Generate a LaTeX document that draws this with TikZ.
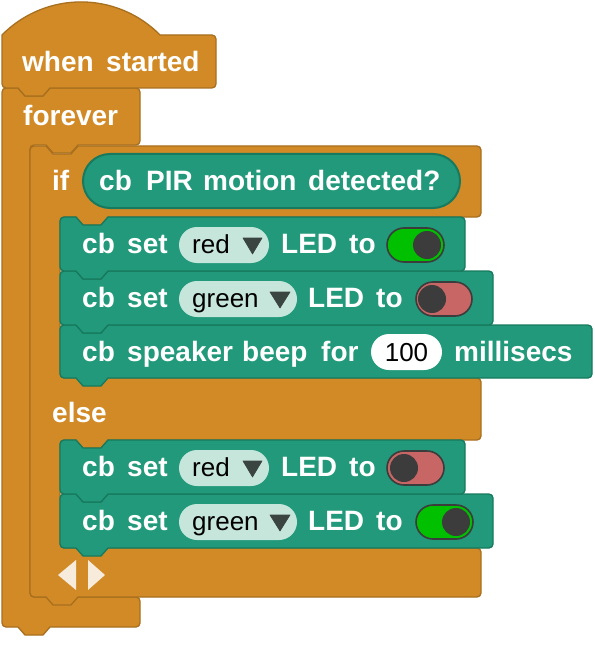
\documentclass[tikz,border=0pt]{standalone}
\usepackage{fontspec}
\setmainfont{Liberation Sans}

\definecolor{ctrl}{HTML}{D18A26}
\definecolor{ctrlline}{HTML}{A86F1E}
\definecolor{cbteal}{HTML}{21997A}
\definecolor{cbline}{HTML}{17795E}
\definecolor{ddfill}{HTML}{C6E6DC}
\definecolor{ddarrow}{HTML}{3A4441}
\definecolor{ongreen}{HTML}{00C000}
\definecolor{offred}{HTML}{C86666}
\definecolor{knob}{HTML}{3C3C3C}
\definecolor{cream}{HTML}{F7EBDC}

\tikzset{
  ctrlblk/.style={fill=ctrl, draw=ctrlline, line width=1.3pt, line join=round},
  stmtblk/.style={fill=cbteal, draw=cbline, line width=1.3pt, line join=round},
  lbl/.style={text=white, font=\fontsize{28}{32}\selectfont\bfseries, inner sep=0pt, anchor=base west},
  fieldtxt/.style={text=black, font=\fontsize{26}{30}\selectfont, inner sep=0pt, anchor=base west},
  ddpill/.style={fill=ddfill, rounded corners=18pt},
  ddtri/.style={fill=ddarrow, draw=ddarrow, line width=0.6pt, line join=round},
}

% statement block: left, top, right, bottom (notch on top, tab below)
\newcommand\stmtblock[4]{%
  \draw[stmtblk] (#1,#2+4) arc[start angle=180,end angle=270,radius=4]
    -- (#1+16,#2) -- (#1+23,#2+8) -- (#1+41,#2+8) -- (#1+48,#2)
    -- (#3-4,#2) arc[start angle=270,end angle=360,radius=4]
    -- (#3,#4-4) arc[start angle=0,end angle=90,radius=4]
    -- (#1+48,#4) -- (#1+41,#4+8) -- (#1+23,#4+8) -- (#1+16,#4)
    -- (#1+4,#4) arc[start angle=90,end angle=180,radius=4] -- cycle;}

% dropdown arrow: left, right, top
\newcommand\ddarrowtri[3]{%
  \draw[ddtri] (#1,#3) -- (#2,#3) -- ({(#1+#2)/2},#3+16) -- cycle;}

% on/off switch: left, right, centre y, fill, knob x
\newcommand\switch[5]{%
  \draw[fill=#4, draw=knob, line width=1.6pt, rounded corners=17pt] (#1,#3-17) rectangle (#2,#3+17);
  \fill[knob] (#5,#3) circle[radius=14];}

\begin{document}
\begin{tikzpicture}[x=1pt, y=-1pt]
\useasboundingbox (0,0) rectangle (594,647);

% forever (C block)
\draw[ctrlblk] (2,92) arc[start angle=180,end angle=270,radius=4]
  -- (18,88) -- (25,96) -- (43,96) -- (50,88)
  -- (136,88) arc[start angle=270,end angle=360,radius=4]
  -- (140,141) arc[start angle=0,end angle=90,radius=4]
  -- (78,145) -- (71,153) -- (53,153) -- (46,145)
  -- (34,145) arc[start angle=270,end angle=180,radius=4]
  -- (30,593) arc[start angle=180,end angle=90,radius=4]
  -- (136,597) arc[start angle=270,end angle=360,radius=4]
  -- (140,623) arc[start angle=0,end angle=90,radius=4]
  -- (50,627) -- (43,635) -- (25,635) -- (18,627)
  -- (6,627) arc[start angle=90,end angle=180,radius=4] -- cycle;

% hat block
\draw[ctrlblk] (2,35) arc[start angle=224.6,end angle=315.4,radius=111]
  -- (212,35) arc[start angle=270,end angle=360,radius=4]
  -- (216,84) arc[start angle=0,end angle=90,radius=4]
  -- (50,88) -- (43,96) -- (25,96) -- (18,88)
  -- (6,88) arc[start angle=90,end angle=180,radius=4] -- cycle;

% if / else block
\draw[ctrlblk] (30,150) arc[start angle=180,end angle=270,radius=4]
  -- (46,146) -- (53,154) -- (71,154) -- (78,146)
  -- (477,146) arc[start angle=270,end angle=360,radius=4]
  -- (481,213) arc[start angle=0,end angle=90,radius=4]
  -- (108,217) -- (101,225) -- (83,225) -- (76,217)
  -- (64,217) arc[start angle=270,end angle=180,radius=4]
  -- (60,374) arc[start angle=180,end angle=90,radius=4]
  -- (477,378) arc[start angle=270,end angle=360,radius=4]
  -- (481,436) arc[start angle=0,end angle=90,radius=4]
  -- (108,440) -- (101,448) -- (83,448) -- (76,440)
  -- (64,440) arc[start angle=270,end angle=180,radius=4]
  -- (60,544) arc[start angle=180,end angle=90,radius=4]
  -- (477,548) arc[start angle=270,end angle=360,radius=4]
  -- (481,593) arc[start angle=0,end angle=90,radius=4]
  -- (78,597) -- (71,605) -- (53,605) -- (46,597)
  -- (34,597) arc[start angle=90,end angle=180,radius=4] -- cycle;

% condition reporter
\draw[fill=cbteal, draw=cbline, line width=2pt, rounded corners=27pt] (83,154) rectangle (460,208);

% statement blocks, lower ones first
\stmtblock{60}{325}{592}{378}
\stmtblock{60}{271}{493}{325}
\stmtblock{60}{217}{465}{271}
\stmtblock{60}{494}{493}{548}
\stmtblock{60}{440}{465}{494}

% hat and loop labels
\node[lbl] (when) at (22,72) {when};
\node[lbl] (started) at (106,72) {started};
\node[lbl] (forever) at (23,126) {forever};
\node[lbl] (if) at (52,190) {if};
\node[lbl] (cbA) at (99,190) {cb};
\node[lbl] (pir) at (146,190) {PIR};
\node[lbl] (motion) at (203,190) {motion};
\node[lbl] (detected) at (308,190) {detected?};
\node[lbl] (else) at (52,422) {else};

% row 1: red on
\node[lbl] (cbB) at (82,253) {cb};
\node[lbl] (setB) at (127,253) {set};
\fill[ddpill] (179,227) rectangle (269,263);
\node[fieldtxt] (redB) at (192,253) {red};
\ddarrowtri{243}{262}{238}
\node[lbl] (ledB) at (281,253) {LED};
\node[lbl] (toB) at (349,253) {to};
\switch{387}{444}{245}{ongreen}{427}

% row 2: green off
\node[lbl] (cbC) at (82,307) {cb};
\node[lbl] (setC) at (127,307) {set};
\fill[ddpill] (179,281) rectangle (297,317);
\node[fieldtxt] (greenC) at (192,307) {green};
\ddarrowtri{270}{290}{292}
\node[lbl] (ledC) at (308,307) {LED};
\node[lbl] (toC) at (376,307) {to};
\switch{416}{472}{299}{offred}{432}

% row 3: speaker
\node[lbl] (cbD) at (82,361) {cb};
\node[lbl] (speaker) at (127,361) {speaker};
\node[lbl] (beep) at (242,361) {beep};
\node[lbl] (for) at (321,361) {for};
\fill[white, rounded corners=18pt] (371,334) rectangle (442,370);
\node[fieldtxt, anchor=base] (ms) at (406.5,361) {100};
\node[lbl] (millisecs) at (454,361) {millisecs};

% row 4: red off
\node[lbl] (cbE) at (82,476) {cb};
\node[lbl] (setE) at (127,476) {set};
\fill[ddpill] (179,450) rectangle (269,486);
\node[fieldtxt] (redE) at (192,476) {red};
\ddarrowtri{243}{262}{461}
\node[lbl] (ledE) at (281,476) {LED};
\node[lbl] (toE) at (349,476) {to};
\switch{387}{444}{468}{offred}{404}

% row 5: green on
\node[lbl] (cbF) at (82,530) {cb};
\node[lbl] (setF) at (127,530) {set};
\fill[ddpill] (179,504) rectangle (297,540);
\node[fieldtxt] (greenF) at (192,530) {green};
\ddarrowtri{270}{290}{515}
\node[lbl] (ledF) at (308,530) {LED};
\node[lbl] (toF) at (376,530) {to};
\switch{416}{473}{522}{ongreen}{456}

% add / remove else-if arrows
\fill[cream] (76,560) -- (76,590) -- (58,575) -- cycle;
\fill[cream] (88,560) -- (88,590) -- (105,575) -- cycle;
\end{tikzpicture}
\end{document}
